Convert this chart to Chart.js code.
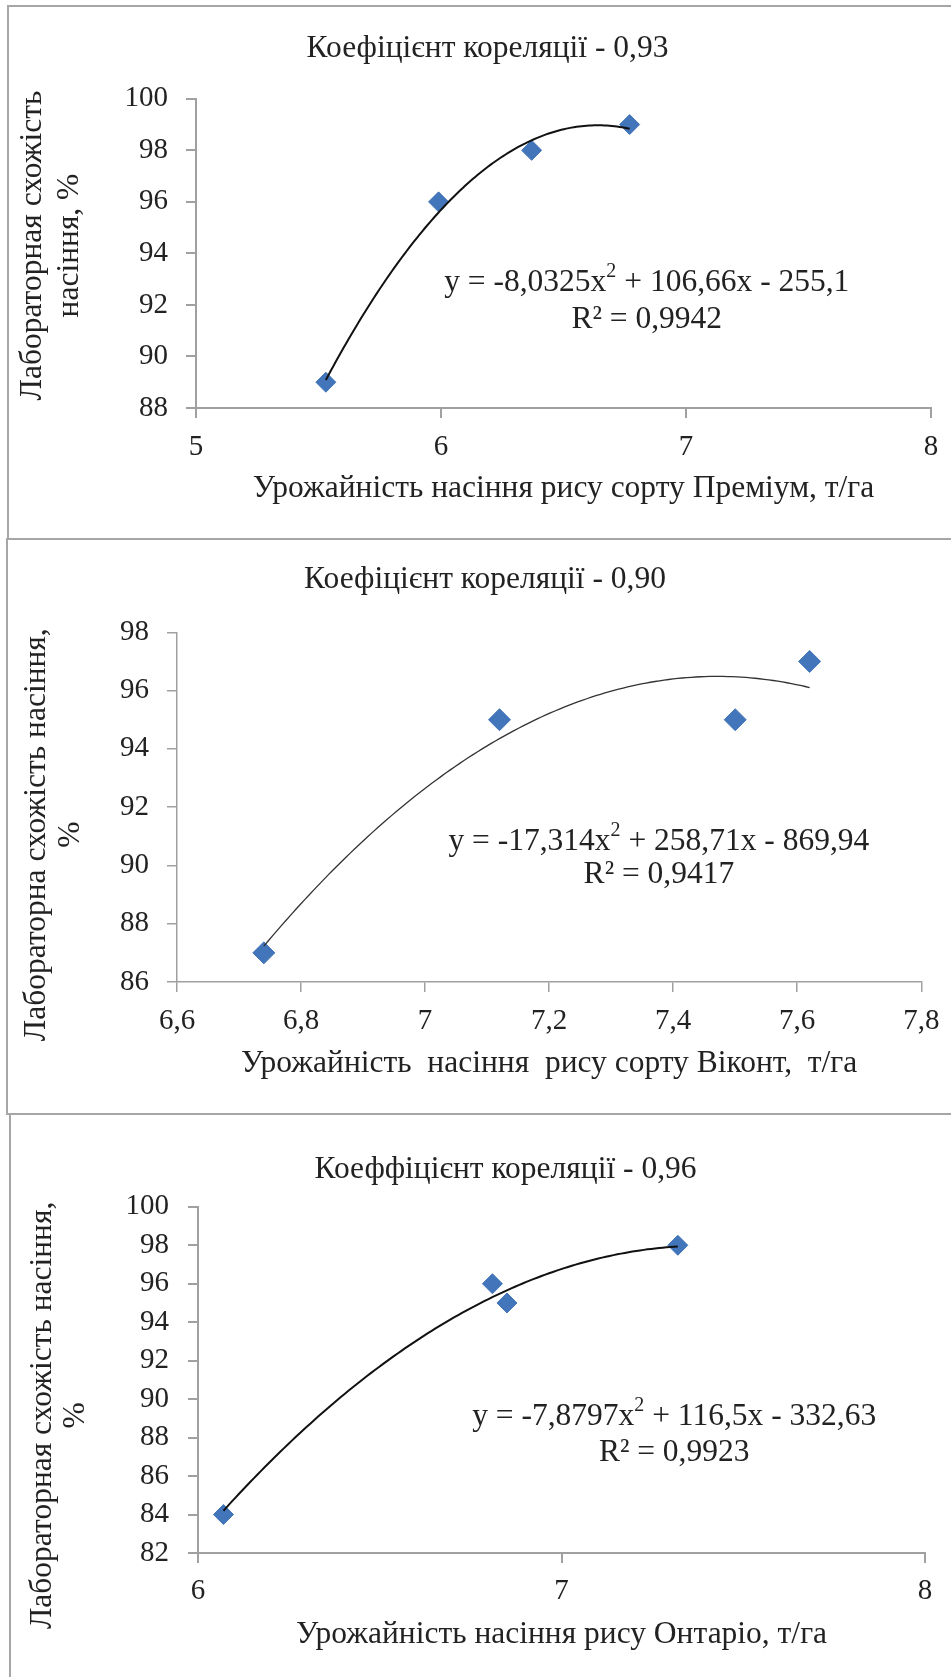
<!DOCTYPE html>
<html>
<head>
<meta charset="utf-8">
<script src="https://cdn.jsdelivr.net/npm/chart.js@4.4.1/dist/chart.umd.min.js"></script>
<style>
  html, body { margin: 0; padding: 0; background: #fff; overflow: hidden; }
  #page { position: relative; width: 951px; height: 1677px; }
  .box { position: absolute; box-sizing: border-box; border: 2px solid #a6a6a6; border-right: none; width: 1000px; }
  canvas { position: absolute; left: 0; }
</style>
</head>
<body>
<div id="page">
  <div class="box" style="left:7px; top:5px; height:535px;"></div>
  <div class="box" style="left:6px; top:538px; height:577px;"></div>
  <div class="box" style="left:9px; top:1113px; height:600px;"></div>
  <canvas id="premium" width="951" height="539" style="top:0px"></canvas>
  <canvas id="vikont" width="951" height="575" style="top:539px"></canvas>
  <canvas id="ontario" width="951" height="563" style="top:1114px"></canvas>
</div>
<script>
// Преміум
const premiumYield = [5.53, 5.99, 6.37, 6.77];
const premiumGermination = [89, 96, 98, 99];
const premiumTrend = [-8.0325, 106.66, -255.1];
const premiumR2 = 0.9942;
const premiumXTicks = [5, 6, 7, 8];
const premiumYTicks = [88, 90, 92, 94, 96, 98, 100];

// Віконт
const vikontYield = [6.74, 7.12, 7.5, 7.62];
const vikontGermination = [87, 95, 95, 97];
const vikontTrend = [-17.314, 258.71, -869.94];
const vikontR2 = 0.9417;
const vikontXTicks = [6.6, 6.8, 7, 7.2, 7.4, 7.6, 7.8];
const vikontYTicks = [86, 88, 90, 92, 94, 96, 98];

// Онтаріо
const ontarioYield = [6.07, 6.81, 6.85, 7.32];
const ontarioGermination = [84, 96, 95, 98];
const ontarioTrend = [-7.8797, 116.5, -332.63];
const ontarioR2 = 0.9923;
const ontarioXTicks = [6, 7, 8];
const ontarioYTicks = [82, 84, 86, 88, 90, 92, 94, 96, 98, 100];

const SERIF = '"Liberation Serif", "Times New Roman", serif';
const TEXT = "#222222";
const AXIS = "#a0a0a0";
const BLUE = "#4275b9";
const BIG = 31.5;

const fmt = (v) => String(v).replace(".", ",");

// Draws the polynomial trendline and its equation on top of the points
const trendPlugin = {
  id: "trend",
  afterDatasetsDraw(chart, args, opts) {
    const { ctx } = chart;
    const xs = chart.scales.x;
    const ys = chart.scales.y;
    const [a, b, c] = opts.coeffs;
    const pts = chart.data.datasets[0].data.map((p) => p.x);
    const x0 = Math.min(...pts);
    const x1 = Math.max(...pts);

    ctx.save();
    ctx.beginPath();
    for (let i = 0; i <= 120; i++) {
      const xv = x0 + ((x1 - x0) * i) / 120;
      const px = xs.getPixelForValue(xv);
      const py = ys.getPixelForValue(a * xv * xv + b * xv + c);
      if (i === 0) ctx.moveTo(px, py);
      else ctx.lineTo(px, py);
    }
    ctx.strokeStyle = opts.color;
    ctx.lineWidth = opts.width;
    ctx.stroke();

    // equation text, line 1 with a raised "2"
    const cx = xs.getPixelForValue(opts.labelAt[0]);
    const cy = ys.getPixelForValue(opts.labelAt[1]);
    const main = BIG + "px " + SERIF;
    const small = "20px " + SERIF;
    const part1 = "y = " + fmt(a) + "x";
    const part2 = " + " + fmt(b) + "x - " + fmt(-c);
    ctx.fillStyle = TEXT;
    ctx.textBaseline = "middle";
    ctx.textAlign = "left";
    ctx.font = main;
    const w1 = ctx.measureText(part1).width;
    const w3 = ctx.measureText(part2).width;
    ctx.font = small;
    const w2 = ctx.measureText("2").width;
    const sx = cx - (w1 + w2 + w3) / 2;
    ctx.font = main;
    ctx.fillText(part1, sx, cy);
    ctx.font = small;
    ctx.fillText("2", sx + w1, cy - 11);
    ctx.font = main;
    ctx.fillText(part2, sx + w1 + w2, cy);

    ctx.textAlign = "center";
    ctx.fillText("R² = " + fmt(opts.r2), cx, cy + opts.gap);
    ctx.restore();
  },
};

function buildChart(id, s) {
  const tickFont = { family: SERIF, size: 29, weight: "normal", lineHeight: 1.2 };
  const font = { family: SERIF, size: BIG, weight: "normal", lineHeight: 1.2 };
  const grid = {
    display: true,
    drawOnChartArea: false,
    drawTicks: true,
    tickLength: 10,
    color: AXIS,
    lineWidth: s.axisWidth,
  };
  const border = { display: true, color: AXIS, width: s.axisWidth };

  return new Chart(document.getElementById(id), {
    type: "scatter",
    data: {
      datasets: [
        {
          data: s.x.map((v, i) => ({ x: v, y: s.y[i] })),
          pointStyle: "rectRot",
          pointRadius: s.pointRadius,
          backgroundColor: BLUE,
          borderColor: BLUE,
          borderWidth: 1,
        },
      ],
    },
    options: {
      responsive: false,
      animation: false,
      events: [],
      layout: { padding: { left: s.padL, right: s.padR, top: 0, bottom: 0 } },
      plugins: {
        legend: { display: false },
        tooltip: { enabled: false },
        title: {
          display: true,
          text: s.title,
          color: TEXT,
          font: font,
          padding: s.titlePad,
        },
        trend: {
          coeffs: s.trend,
          r2: s.r2,
          color: s.trendColor,
          width: s.trendWidth,
          labelAt: s.labelAt,
          gap: s.labelGap,
        },
      },
      scales: {
        x: {
          type: "linear",
          min: s.xTicks[0],
          max: s.xTicks[s.xTicks.length - 1],
          afterBuildTicks: (sc) => {
            sc.ticks = s.xTicks.map((v) => ({ value: v }));
          },
          afterFit: (sc) => {
            sc.height = s.xHeight;
          },
          ticks: {
            color: TEXT,
            font: tickFont,
            padding: s.xTickPad,
            autoSkip: false,
            maxRotation: 0,
            callback: (v) => fmt(v),
          },
          grid: grid,
          border: border,
          title: {
            display: true,
            text: s.xTitle,
            color: TEXT,
            font: font,
            padding: { top: 0, bottom: s.xTitlePad },
          },
        },
        y: {
          type: "linear",
          min: s.yTicks[0],
          max: s.yTicks[s.yTicks.length - 1],
          afterBuildTicks: (sc) => {
            sc.ticks = s.yTicks.map((v) => ({ value: v }));
          },
          afterFit: (sc) => {
            sc.width = s.yWidth;
          },
          ticks: {
            color: TEXT,
            font: tickFont,
            padding: s.yTickPad,
            autoSkip: false,
            callback: (v) => fmt(v),
          },
          grid: grid,
          border: border,
          title: {
            display: true,
            text: s.yTitle,
            color: TEXT,
            font: { family: SERIF, size: BIG, weight: "normal", lineHeight: s.yTitleLine },
            padding: { top: s.yTitlePad, bottom: 0 },
          },
        },
      },
    },
    plugins: [trendPlugin],
  });
}

buildChart("premium", {
  x: premiumYield,
  y: premiumGermination,
  trend: premiumTrend,
  r2: premiumR2,
  xTicks: premiumXTicks,
  yTicks: premiumYTicks,
  title: "Коефіцієнт кореляції - 0,93",
  xTitle: "Урожайність насіння рису сорту Преміум, т/га",
  yTitle: ["  Лабораторная схожість", "  насіння, %"],
  padL: 44,
  padR: 20,
  yWidth: 152,
  xHeight: 131,
  titlePad: { top: 30, bottom: 31 },
  xTickPad: 11.6,
  yTickPad: 18,
  xTitlePad: 31,
  yTitlePad: -29.5,
  yTitleLine: 1.175,
  axisWidth: 2,
  pointRadius: 10,
  trendColor: "#111",
  trendWidth: 2,
  labelAt: [6.84, 92.85],
  labelGap: 37,
});

buildChart("vikont", {
  x: vikontYield,
  y: vikontGermination,
  trend: vikontTrend,
  r2: vikontR2,
  xTicks: vikontXTicks,
  yTicks: vikontYTicks,
  title: "Коефіцієнт кореляції - 0,90",
  xTitle: "Урожайність  насіння  рису сорту Віконт,  т/га",
  yTitle: ["Лабораторна схожість насіння,       ", "%       "],
  padL: 40,
  padR: 21,
  yWidth: 137,
  xHeight: 132,
  titlePad: { top: 22, bottom: 33.5 },
  xTickPad: 11.6,
  yTickPad: 18,
  xTitlePad: 31,
  yTitlePad: -20,
  yTitleLine: 1.08,
  axisWidth: 1.5,
  pointRadius: 11,
  trendColor: "#333",
  trendWidth: 1.3,
  labelAt: [7.377, 90.8],
  labelGap: 33,
});

buildChart("ontario", {
  x: ontarioYield,
  y: ontarioGermination,
  trend: ontarioTrend,
  r2: ontarioR2,
  xTicks: ontarioXTicks,
  yTicks: ontarioYTicks,
  title: "Коеффіцієнт кореляції - 0,96",
  xTitle: "Урожайність насіння рису Онтаріо, т/га",
  yTitle: ["Лабораторная схожість насіння,         ", "%         "],
  padL: 86,
  padR: 26,
  yWidth: 112,
  xHeight: 124,
  titlePad: { top: 36.5, bottom: 18.5 },
  xTickPad: 10.6,
  yTickPad: 19,
  xTitlePad: 23,
  yTitlePad: -59.5,
  yTitleLine: 1.048,
  axisWidth: 2,
  pointRadius: 10,
  trendColor: "#111",
  trendWidth: 2,
  labelAt: [7.31, 89.1],
  labelGap: 36,
});
</script>
</body>
</html>
